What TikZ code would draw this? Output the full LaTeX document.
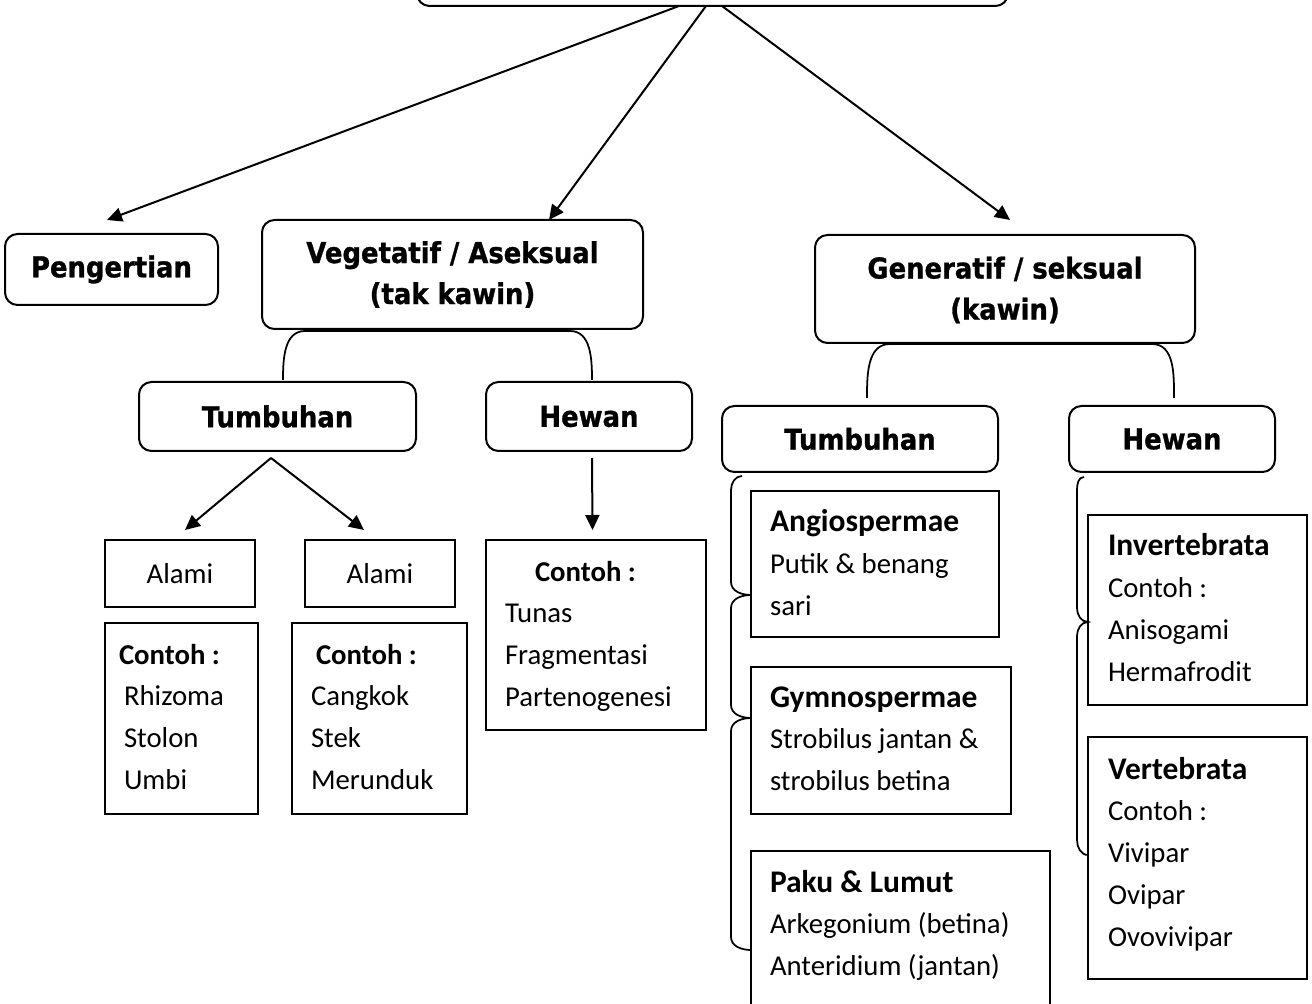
\documentclass[tikz,border=0pt]{standalone}
\usepackage{fontspec}
\setmainfont{Carlito}
\newfontfamily\headfont{DejaVu Sans}[FakeStretch=0.9, BoldFeatures={FakeBold=1}]
\usetikzlibrary{arrows.meta,fit}

\newcommand\hdstrut{\rule{0pt}{12pt}}
\newcommand\judulkecil[1]{{\fontsize{12.6}{16.7}\selectfont\bfseries #1}}

\tikzset{
  kotak/.style={draw, line width=0.8pt, inner sep=0pt, outer sep=0pt},
  judulbox/.style={kotak, rounded corners=5pt},
  judulteks/.style={inner sep=0pt, align=center,
    font=\headfont\bfseries\fontsize{11.5}{16.4}\selectfont},
  alamiteks/.style={inner sep=0pt, font=\fontsize{11.5}{14}\selectfont},
  isi/.style={inner sep=0pt, outer sep=0pt, anchor=north west, align=left,
    font=\fontsize{11.5}{16.7}\selectfont},
  panah/.style={line width=0.8pt, -{Triangle[length=6pt,width=5.6pt]}},
  kurung/.style={line width=0.7pt}
}

\begin{document}
\begin{tikzpicture}[x=0.4pt,y=-0.4pt]
\useasboundingbox (0,0) rectangle (1312,1004);

% kotak judul dan tingkat pertama
\node[judulbox, fit={(417,-60) (1008,6)}] (judul) {};
\node[judulbox, fit={(5,234) (218,305)}] (pengertian) {};
\node[judulbox, fit={(262,220) (643,329)}] (vegetatif) {};
\node[judulbox, fit={(815,235) (1195,343)}] (generatif) {};
\node[judulteks] (pengertianT) at (pengertian) {Pengertian};
\node[judulteks] (vegetatifT) at (vegetatif) {Vegetatif / Aseksual\\(tak kawin)};
\node[judulteks] (generatifT) at ([yshift=-0.4pt]generatif.center) {Generatif / seksual\\(kawin)};

% tingkat kedua
\node[judulbox, fit={(139,382) (416,451)}] (tumbuhanA) {};
\node[judulbox, fit={(486,382) (692,451)}] (hewanA) {};
\node[judulbox, fit={(722,406) (998,472)}] (tumbuhanB) {};
\node[judulbox, fit={(1069,406) (1275,472)}] (hewanB) {};
\node[judulteks] (tumbuhanAT) at (tumbuhanA) {Tumbuhan};
\node[judulteks] (hewanAT) at (hewanA) {Hewan};
\node[judulteks] (tumbuhanBT) at (tumbuhanB) {Tumbuhan};
\node[judulteks] (hewanBT) at (hewanB) {Hewan};

% kotak isi
\node[kotak, fit={(105,540) (255,607)}] (alami1) {};
\node[kotak, fit={(305,540) (455,607)}] (alami2) {};
\node[alamiteks] (alami1T) at (alami1) {Alami};
\node[alamiteks] (alami2T) at (alami2) {Alami};
\node[kotak, fit={(105,623) (258,814)}] (contoh1) {};
\node[kotak, fit={(292,623) (467,814)}] (contoh2) {};
\node[kotak, fit={(486,540) (706,730)}] (contoh3) {};
\node[kotak, fit={(751,491) (999,637)}] (angio) {};
\node[kotak, fit={(751,667) (1011,814)}] (gymno) {};
\node[kotak, fit={(751,851) (1050,1030)}] (paku) {};
\node[kotak, fit={(1088,515) (1307,705)}] (invert) {};
\node[kotak, fit={(1088,737) (1307,979)}] (vert) {};

% teks di dalam kotak
\node[isi] (isi1) at (119,634) {\hdstrut\textbf{Contoh :}\\\hspace*{2pt}Rhizoma\\\hspace*{2pt}Stolon\\\hspace*{2pt}Umbi};
\node[isi] (isi2) at (311,634) {\hdstrut\hspace*{2pt}\textbf{Contoh :}\\Cangkok\\Stek\\Merunduk};
\node[isi] (isi3) at (505,551) {\hdstrut\hspace*{12pt}\textbf{Contoh :}\\Tunas\\Fragmentasi\\Partenogenesi};
\node[isi] (isi4) at (770,502) {\hdstrut\judulkecil{Angiospermae}\\Putik \& benang\\sari};
\node[isi] (isi5) at (770,677) {\hdstrut\judulkecil{Gymnospermae}\\Strobilus jantan \&\\strobilus betina};
\node[isi] (isi6) at (770,862) {\hdstrut\judulkecil{Paku \& Lumut}\\Arkegonium (betina)\\Anteridium (jantan)};
\node[isi] (isi7) at (1108,526) {\hdstrut\judulkecil{Invertebrata}\\Contoh :\\Anisogami\\Hermafrodit};
\node[isi] (isi8) at (1108,749) {\hdstrut\judulkecil{Vertebrata}\\Contoh :\\Vivipar\\Ovipar\\Ovovivipar};

% panah
\draw[panah] ([xshift=-13.4pt]judul.south) -- ([xshift=-1.8pt,yshift=5.6pt]pengertian.north);
\draw[panah] ([xshift=-2.6pt]judul.south) -- ([xshift=38.6pt]vegetatif.north);
\draw[panah] ([xshift=3.8pt]judul.south) -- ([xshift=2pt,yshift=6pt]generatif.north);
\draw[panah] ([xshift=-2.6pt,yshift=-2.8pt]tumbuhanA.south) -- ([xshift=2pt,yshift=4pt]alami1.north);
\draw[panah] ([xshift=-2.6pt,yshift=-2.8pt]tumbuhanA.south) -- ([xshift=-6.4pt,yshift=4pt]alami2.north);
\draw[panah] ([xshift=1.2pt,yshift=-2.8pt]hewanA.south) -- ([xshift=-1.4pt,yshift=4pt]contoh3.north);

% kurung
\draw[kurung] ([xshift=2.2pt,yshift=0.8pt]tumbuhanA.north) to[out=90,in=180] (305,331)
  -- (570,331) to[out=0,in=90] ([xshift=1.2pt,yshift=0.8pt]hewanA.north);
\draw[kurung] ([xshift=2.8pt,yshift=3.2pt]tumbuhanB.north) to[out=90,in=180] (890,344)
  -- (1152,344) to[out=0,in=90] ([xshift=0.8pt,yshift=3.2pt]hewanB.north);
\draw[kurung] ([shift={(20,4)}]tumbuhanB.south west) to[out=180,in=90] (731,490)
  -- (731,582) to[out=-90,in=180] (751,595)
  to[out=180,in=90] (731,608) -- (731,705) to[out=-90,in=180] (751,718)
  to[out=180,in=90] (731,731) -- (731,937) to[out=-90,in=180] (751,950);
\draw[kurung] ([shift={(15,5)}]hewanB.south west) to[out=180,in=90] (1077,490)
  -- (1077,608) to[out=-90,in=180] (1088,622)
  to[out=180,in=90] (1077,636) -- (1077,840) to[out=-90,in=180] (1088,855);
\end{tikzpicture}
\end{document}
